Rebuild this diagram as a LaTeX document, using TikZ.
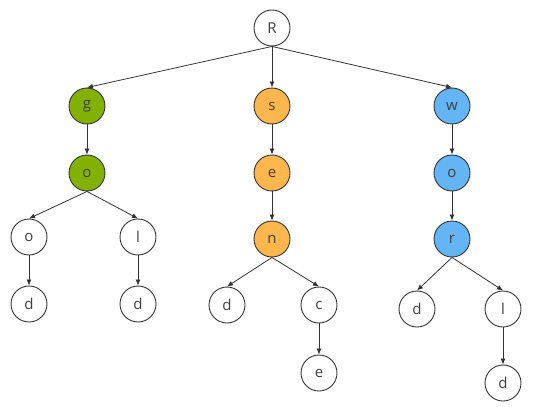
\documentclass[tikz,border=0pt]{standalone}
\usepackage{fontspec}
\setmainfont{Open Sans}
\usetikzlibrary{arrows.meta}
\definecolor{gfill}{HTML}{82B100}
\definecolor{ofill}{HTML}{FFB74D}
\definecolor{bfill}{HTML}{64B5F6}
\definecolor{edgec}{HTML}{333333}
\definecolor{txtc}{HTML}{404040}
\begin{document}
\begin{tikzpicture}[x=1pt,y=-1pt,
  tn/.style={circle,draw=edgec,line width=0.9pt,minimum size=36pt,inner sep=0pt,fill=white,
    text=txtc,font=\fontsize{15}{17}\selectfont},
  gn/.style={tn,fill=gfill},
  on/.style={tn,fill=ofill},
  bn/.style={tn,fill=bfill},
  ed/.style={draw=edgec,line width=0.8pt,-{Latex[length=6pt,width=5pt]}}]
\useasboundingbox (0,0) rectangle (534,406);
\node[tn] (R) at (272,28) {R};
\node[gn] (g) at (87,106) {g};
\node[on] (s) at (272,106) {s};
\node[bn] (w) at (452,106) {w};
\node[gn] (go) at (87,173) {o};
\node[on] (se) at (272,173) {e};
\node[bn] (wo) at (452,173) {o};
\node[on] (sn) at (272,239) {n};
\node[bn] (wr) at (452,239) {r};
\node[tn] (oo) at (29,237) {o};
\node[tn] (ol) at (138,237) {l};
\node[tn] (ood) at (29,304) {d};
\node[tn] (old) at (138,304) {d};
\node[tn] (nd) at (227,305) {d};
\node[tn] (nc) at (319,305) {c};
\node[tn] (nce) at (319,373) {e};
\node[tn] (rd) at (417,309) {d};
\node[tn] (rl) at (503,309) {l};
\node[tn] (rld) at (503,383) {d};
\foreach \a/\b in {R/g,R/s,R/w,g/go,s/se,w/wo,se/sn,wo/wr,go/oo,go/ol,oo/ood,ol/old,sn/nd,sn/nc,nc/nce,wr/rd,wr/rl,rl/rld}
  \draw[ed] (\a.south) -- (\b.north);
\end{tikzpicture}
\end{document}
